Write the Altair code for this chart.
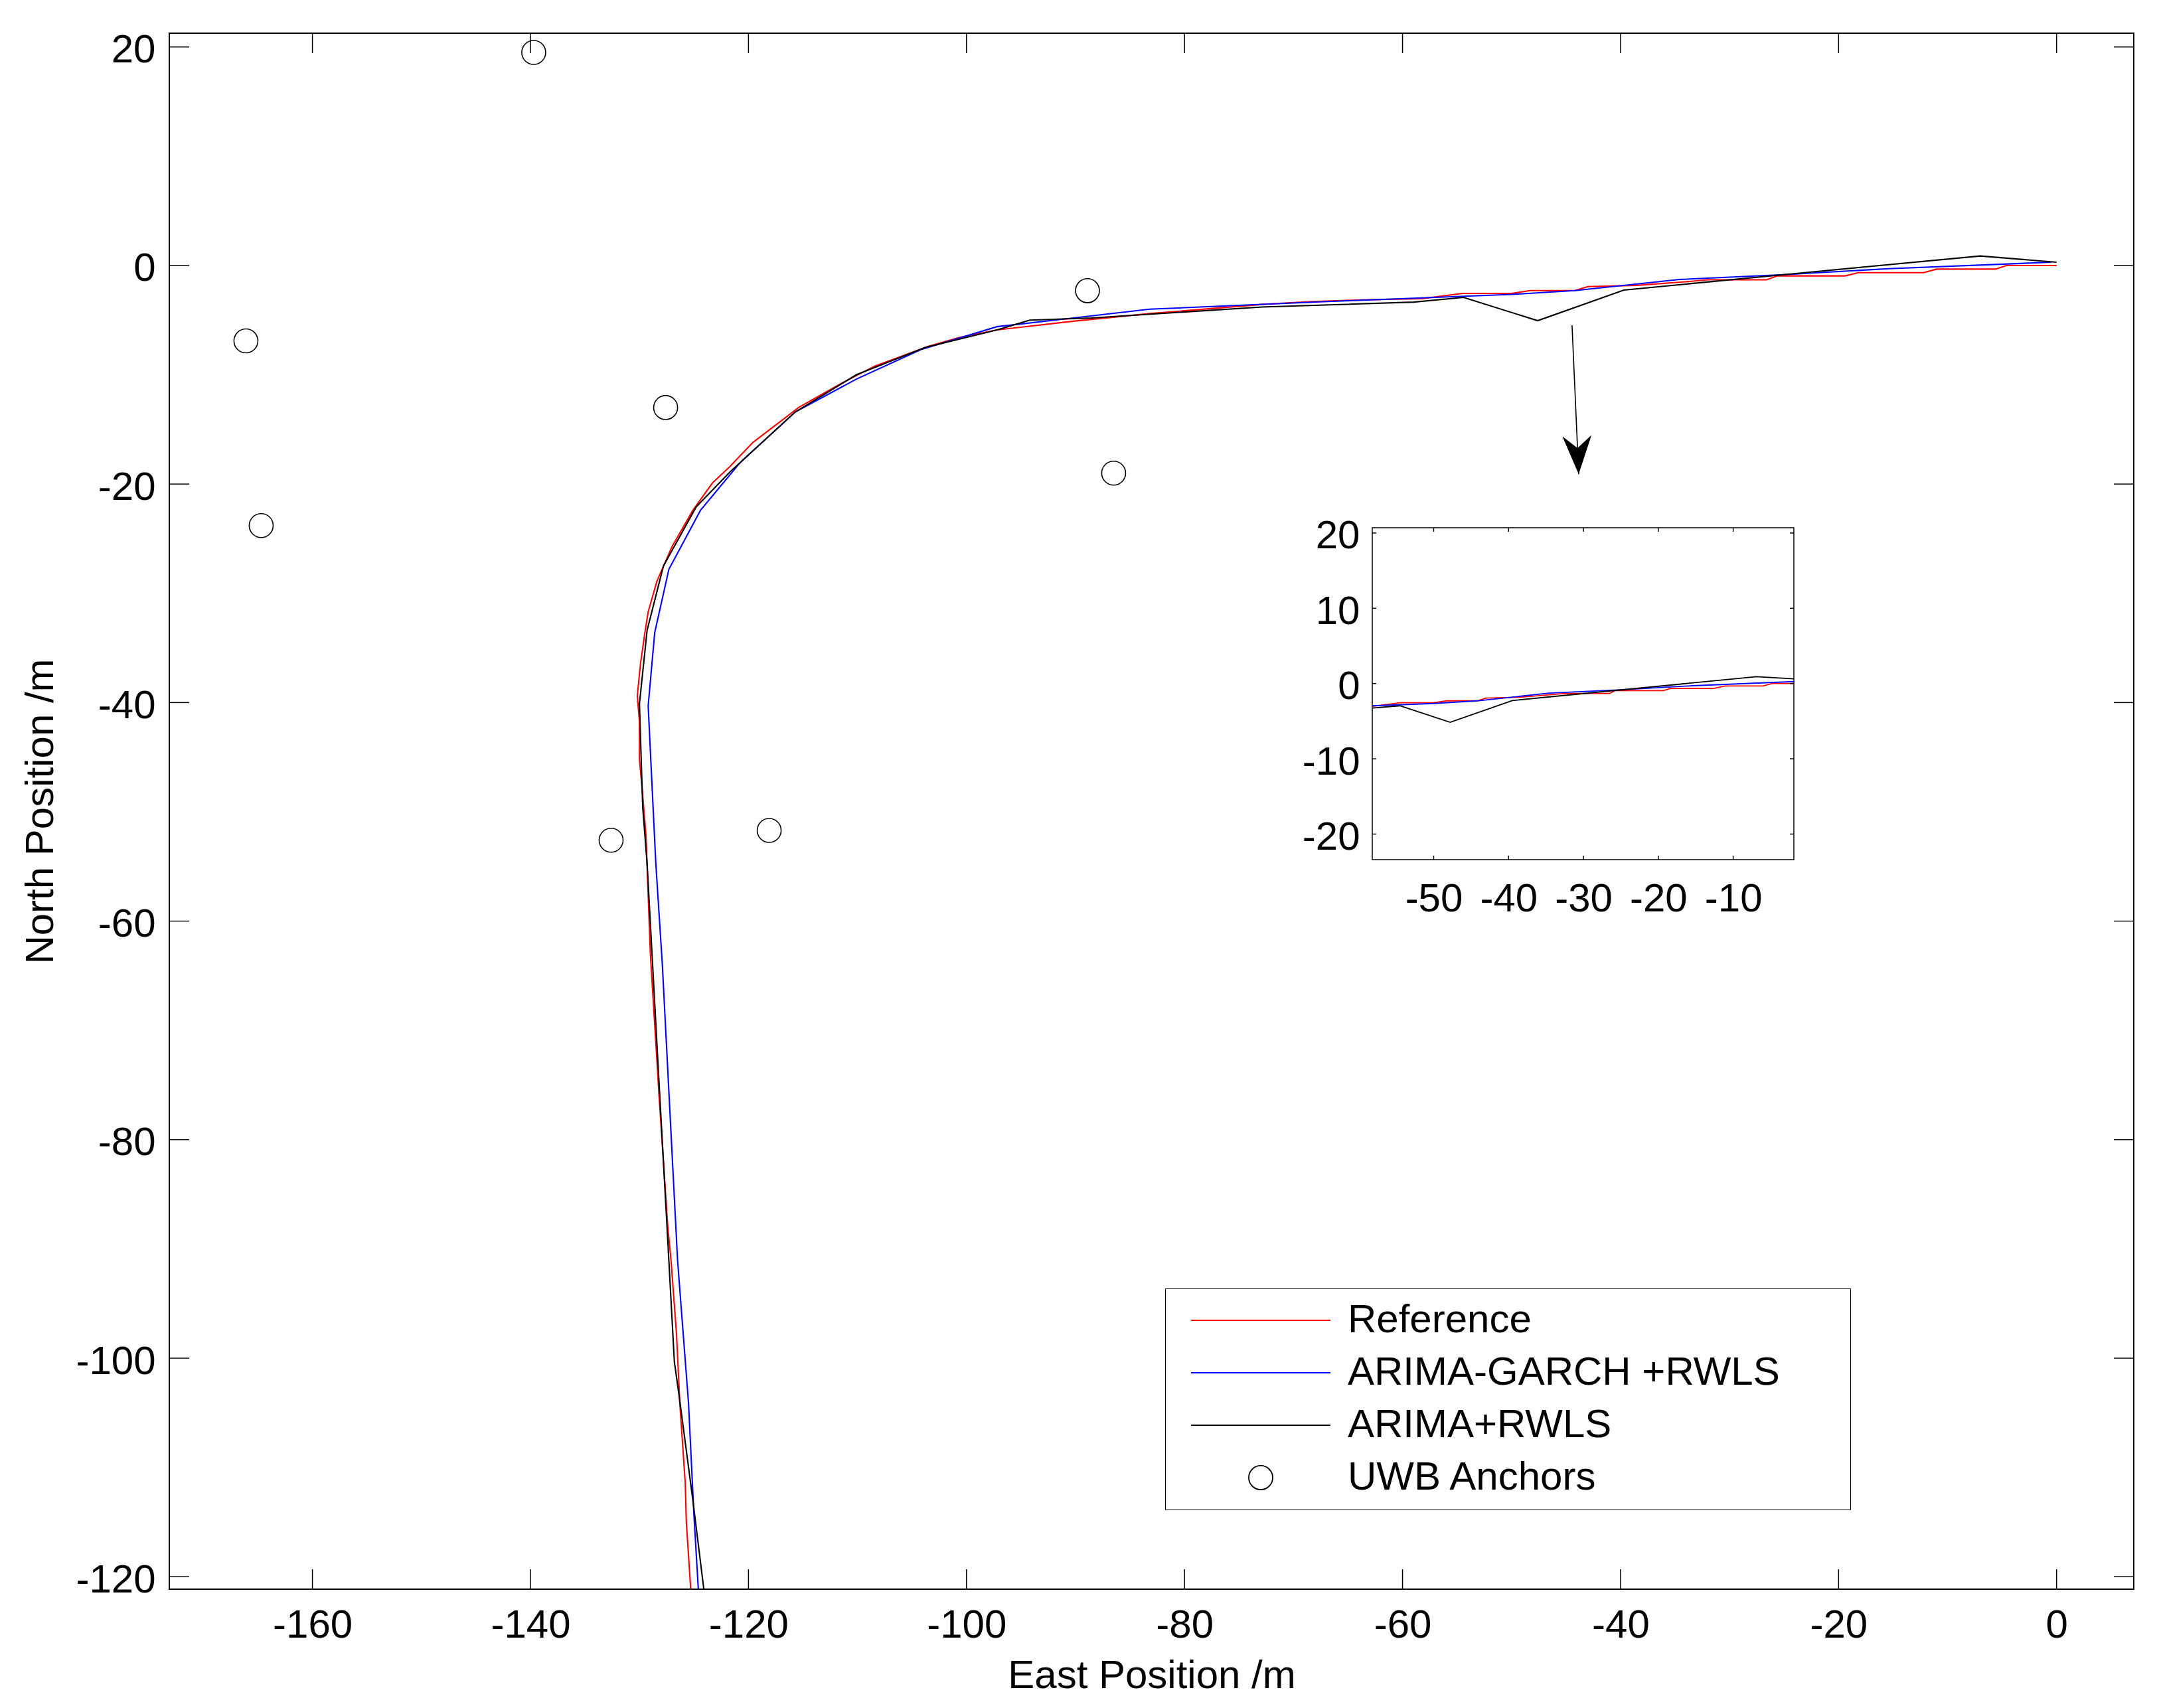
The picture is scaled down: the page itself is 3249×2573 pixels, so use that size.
import altair as alt
import pandas as pd

# ---------------- data ----------------
ref_x = [0.0, -4.6, -5.6, -11.0, -12.2, -18.2, -19.4, -25.6, -26.6, -32.0, -33.5, -38.5,
         -43.0, -44.2, -48.3, -50.0, -54.5, -58.2, -63.7, -68.3, -72.7, -83.2, -90.2,
         -97.2, -100.7, -103.5, -108.4, -111.5, -115.4, -119.6, -121.7, -123.3, -125.1,
         -127.0, -128.4, -129.2, -129.5, -129.9, -130.2, -130.0, -130.0, -129.7, -129.4,
         -129.0, -128.2, -127.4, -127.1, -126.6, -126.3, -125.8, -125.7, -125.3]
ref_y = [0.0, 0.0, -0.33, -0.33, -0.66, -0.66, -0.95, -0.95, -1.31, -1.31, -1.45, -1.82,
         -1.93, -2.3, -2.3, -2.55, -2.55, -3.03, -3.15, -3.3, -3.55, -4.4, -5.1,
         -5.9, -6.6, -7.4, -9.2, -10.8, -13.0, -16.2, -18.4, -19.9, -22.4,
         -25.7, -28.9, -31.7, -33.6, -36.4, -39.4, -41.7, -45.2, -48.5, -52.2,
         -63.0, -76.0, -88.0, -91.1, -97.8, -104.1, -111.4, -115.0, -121.1]

garch_x = [-0.5, -15.4, -25.0, -34.6, -44.2, -50.0, -58.2, -66.9, -83.2, -90.2, -97.2,
           -104.2, -110.1, -115.7, -120.3, -120.9, -124.4, -127.3, -128.6, -129.2,
           -128.5, -127.9, -126.5, -125.5, -125.0, -124.6]
garch_y = [0.3, -0.29, -0.84, -1.28, -2.3, -2.65, -2.96, -3.3, -4.0, -4.8, -5.6,
           -7.7, -10.4, -13.4, -17.6, -18.2, -22.4, -27.8, -33.6, -40.3,
           -54.7, -64.0, -91.1, -104.1, -114.4, -121.1]

arima_x = [0.0, -7.0, -22.0, -39.7, -47.6, -54.4, -59.0, -72.9, -88.5, -94.2, -97.2,
           -103.8, -110.1, -115.7, -121.7, -124.8, -127.8, -129.3, -130.0, -129.7,
           -129.3, -128.3, -127.3, -126.8, -126.3, -125.1, -124.1]
arima_y = [0.3, 0.87, -0.55, -2.25, -5.05, -2.92, -3.35, -3.8, -4.8, -5.0, -5.9,
           -7.5, -10.0, -13.4, -18.9, -22.1, -27.5, -33.4, -40.1, -49.6,
           -54.7, -73.0, -91.1, -100.3, -103.9, -113.0, -121.1]

# inset (zoom of the eastern part)
in_ref_x = [-58.2, -54.5, -50.0, -48.3, -44.2, -43.0, -38.5, -33.2, -32.3, -26.5, -25.8,
            -19.3, -18.4, -12.6, -11.1, -6.0, -4.8, -1.9]
in_ref_y = [-3.03, -2.55, -2.55, -2.3, -2.3, -1.93, -1.82, -1.39, -1.31, -1.31, -0.95,
            -0.95, -0.66, -0.66, -0.33, -0.33, 0.0, 0.0]
in_garch_x = [-58.2, -50.0, -44.2, -34.6, -25.0, -15.4, -1.9]
in_garch_y = [-2.96, -2.65, -2.3, -1.28, -0.84, -0.29, 0.26]
in_arima_x = [-58.2, -54.5, -47.8, -39.5, -6.9, -1.9]
in_arima_y = [-3.25, -2.96, -5.15, -2.26, 0.91, 0.62]

anchor_x = [-139.7, -166.1, -164.7, -127.6, -132.6, -118.1, -88.9, -86.5]
anchor_y = [19.5, -6.9, -23.8, -13.0, -52.6, -51.7, -2.3, -19.0]

series_names = ["Reference", "ARIMA-GARCH +RWLS", "ARIMA+RWLS", "UWB Anchors"]
series_colors = ["#ff0000", "#0000ff", "#000000", "#000000"]

x_ticks = [-160, -140, -120, -100, -80, -60, -40, -20, 0]
y_ticks = [-120, -100, -80, -60, -40, -20, 0, 20]
main_x_domain = [-173.13, 7.08]
main_y_domain = [-121.14, 21.26]

inset_x_ticks = [-50, -40, -30, -20, -10]
inset_y_ticks = [-20, -10, 0, 10, 20]
inset_x_domain = [-58.2, -1.9]
inset_y_domain = [-23.4, 20.7]

arrow_start = [-44.45, -5.47]
arrow_tip = [-43.84, -19.1]

# ---------------- layout / style ----------------
FONT = "Liberation Sans"
FS = 60
W, H = 2959, 2344
TICK_MAIN = 30
TICK_INSET = 6
IN_L, IN_R, IN_T, IN_B = 1812, 2447, 745, 1245
LINE_W = 2.1
LEG_LINE = "M-5.82,0L5.82,0"
ARROW_PATH = "M0,0L-1.47,-3.87L0,-2.63L1.47,-3.87Z"
HYPHEN_LABEL = "'' + datum.value"   # plain hyphen-minus, as in the reference

xs = alt.Scale(domain=main_x_domain, nice=False, zero=False)
ys = alt.Scale(domain=main_y_domain, nice=False, zero=False)
ixs = alt.Scale(domain=inset_x_domain, range=[IN_L, IN_R], nice=False, zero=False)
iys = alt.Scale(domain=inset_y_domain, range=[IN_B, IN_T], nice=False, zero=False)


def line_df(xv, yv):
    return pd.DataFrame({"x": xv, "y": yv, "i": list(range(len(xv)))})


x_axis = alt.Axis(values=x_ticks, title="East Position /m", orient="bottom", labelPadding=25,
                  labelExpr=HYPHEN_LABEL,
                  titleX=W / 2, titleY=148, titleBaseline="alphabetic", titleAlign="center")
y_axis = alt.Axis(values=y_ticks, title="North Position /m", orient="left", labelPadding=21,
                  labelExpr=HYPHEN_LABEL,
                  labelOffset=5, titleX=-176, titleY=H / 2, titleBaseline="alphabetic",
                  titleAngle=270, titleAlign="center")

layers = []
for k, (xv, yv) in enumerate([(ref_x, ref_y), (garch_x, garch_y), (arima_x, arima_y)]):
    layers.append(
        alt.Chart(line_df(xv, yv)).mark_line(color=series_colors[k], strokeWidth=LINE_W).encode(
            x=alt.X("x:Q", scale=xs, axis=x_axis if k == 0 else None),
            y=alt.Y("y:Q", scale=ys, axis=y_axis if k == 0 else None),
            order="i:Q",
        )
    )

legend = alt.Legend(
    title="\u00a0", titleOrient="right", titleFontSize=1, titlePadding=88,
    orient="none", legendX=1500, legendY=1891,
    labelFont=FONT, labelFontSize=FS, labelColor="black", labelLimit=2000,
    symbolSize=1300, symbolStrokeWidth=1.8, symbolOffset=96, labelOffset=101,
    padding=18, rowPadding=19, strokeColor="black", fillColor="white",
)
anchor_df = pd.DataFrame({"x": anchor_x, "y": anchor_y, "series": series_names[3]})
layers.append(
    alt.Chart(anchor_df).mark_point(size=1300, filled=False, strokeWidth=1.6, opacity=1).encode(
        x=alt.X("x:Q", scale=xs, axis=None),
        y=alt.Y("y:Q", scale=ys, axis=None),
        color=alt.Color("series:N", scale=alt.Scale(domain=series_names, range=series_colors),
                        legend=legend),
        shape=alt.Shape("series:N", scale=alt.Scale(domain=series_names,
                                                    range=[LEG_LINE, LEG_LINE, LEG_LINE, "circle"]),
                        legend=legend),
    )
)

arrow_df = pd.DataFrame({"x": [arrow_start[0]], "y": [arrow_start[1]],
                         "x2": [arrow_tip[0]], "y2": [arrow_tip[1]]})
layers.append(
    alt.Chart(arrow_df).mark_rule(color="black", strokeWidth=1.6).encode(
        x=alt.X("x:Q", scale=xs, axis=None), y=alt.Y("y:Q", scale=ys, axis=None),
        x2="x2", y2="y2")
)
layers.append(
    alt.Chart(arrow_df).mark_point(shape=ARROW_PATH, size=900, filled=True, color="black",
                                   opacity=1, strokeWidth=0, angle=357.4).encode(
        x=alt.X("x2:Q", scale=xs, axis=None), y=alt.Y("y2:Q", scale=ys, axis=None))
)


def vticks(vals, scale, y0, y1):
    return alt.Chart(pd.DataFrame({"t": vals})).mark_rule(color="black", strokeWidth=1.5).encode(
        x=alt.X("t:Q", scale=scale, axis=None), y=alt.value(y0), y2=alt.value(y1))


def hticks(vals, scale, x0, x1):
    return alt.Chart(pd.DataFrame({"t": vals})).mark_rule(color="black", strokeWidth=1.5).encode(
        y=alt.Y("t:Q", scale=scale, axis=None), x=alt.value(x0), x2=alt.value(x1))


layers += [
    vticks(x_ticks, xs, H, H - TICK_MAIN),
    vticks(x_ticks, xs, 0, TICK_MAIN),
    hticks(y_ticks, ys, 0, TICK_MAIN),
    hticks(y_ticks, ys, W, W - TICK_MAIN),
]

# ---------------- inset ----------------
ix_axis = alt.Axis(values=inset_x_ticks, title=None, orient="bottom", offset=-(H - IN_B),
                   labelPadding=30, labelExpr=HYPHEN_LABEL)
iy_axis = alt.Axis(values=inset_y_ticks, title=None, orient="left", offset=-IN_L,
                   labelPadding=19, labelOffset=5, labelExpr=HYPHEN_LABEL)
iframe_df = pd.DataFrame({"x": [inset_x_domain[0]], "x2": [inset_x_domain[1]],
                          "y": [inset_y_domain[0]], "y2": [inset_y_domain[1]]})
layers.append(
    alt.Chart(iframe_df).mark_rect(fill="white", stroke="black", strokeWidth=1.5).encode(
        x=alt.X("x:Q", scale=ixs, axis=ix_axis), x2="x2",
        y=alt.Y("y:Q", scale=iys, axis=iy_axis), y2="y2")
)
for k, (xv, yv) in enumerate([(in_ref_x, in_ref_y), (in_garch_x, in_garch_y),
                              (in_arima_x, in_arima_y)]):
    layers.append(
        alt.Chart(line_df(xv, yv)).mark_line(color=series_colors[k], strokeWidth=1.8).encode(
            x=alt.X("x:Q", scale=ixs, axis=None),
            y=alt.Y("y:Q", scale=iys, axis=None),
            order="i:Q",
        )
    )
layers += [
    vticks(inset_x_ticks, ixs, IN_B, IN_B - TICK_INSET),
    vticks(inset_x_ticks, ixs, IN_T, IN_T + TICK_INSET),
    hticks(inset_y_ticks, iys, IN_L, IN_L + TICK_INSET),
    hticks(inset_y_ticks, iys, IN_R, IN_R - TICK_INSET),
]

chart = (
    alt.layer(*layers)
    .resolve_scale(x="independent", y="independent")
    .properties(width=W, height=H,
                padding={"left": 247, "top": 42, "right": 20, "bottom": 170},
                autosize=alt.AutoSizeParams(type="none"))
    .configure_axis(labelFont=FONT, labelFontSize=FS, labelColor="black",
                    titleFont=FONT, titleFontSize=FS, titleFontWeight="normal", titleColor="black",
                    domain=False, ticks=False, tickSize=0, grid=False,
                    labelFlush=False, labelOverlap=False)
    .configure_view(stroke="black", strokeWidth=2)
)

chart.save("out.html", embed_options={"renderer": "svg", "actions": False})
